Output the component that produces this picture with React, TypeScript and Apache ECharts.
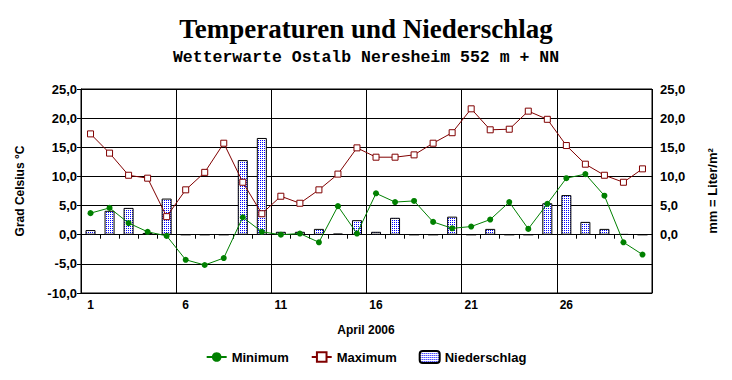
import React, { useEffect, useRef } from "react";
import * as echarts from "echarts";

const days = ["1","2","3","4","5","6","7","8","9","10","11","12","13","14","15","16","17","18","19","20","21","22","23","24","25","26","27","28","29","30"];
const minTemp = [3.7,4.6,2.0,0.5,-0.2,-4.3,-5.2,-4.0,3.0,0.5,0.0,0.2,-1.3,4.9,0.2,7.1,5.6,5.8,2.2,1.1,1.4,2.6,5.6,1.0,5.3,9.7,10.4,6.7,-1.3,-3.4];
const maxTemp = [17.3,14.0,10.2,9.7,3.1,7.7,10.7,15.7,9.0,3.6,6.6,5.4,7.7,10.4,14.9,13.3,13.3,13.7,15.7,17.5,21.6,18.0,18.1,21.2,19.8,15.3,12.1,10.2,9.0,11.3];
const rain = [0.8,4.1,4.6,0.3,6.2,0,0,0,12.8,16.6,0.5,0.5,1.0,0.2,2.5,0.5,2.9,0,0,3.1,0,1.0,0,0,5.4,6.8,2.2,1.0,0.1,0];

const fmt = (v: number) => v.toFixed(1).replace(".", ",");

function makePattern() {
  const c = document.createElement("canvas");
  c.width = 2;
  c.height = 2;
  const ctx = c.getContext("2d")!;
  ctx.fillStyle = "#ffffff";
  ctx.fillRect(0, 0, 2, 2);
  ctx.fillStyle = "#0000ff";
  ctx.fillRect(0, 0, 1, 1);
  return { image: c, repeat: "repeat", imageWidth: 2, imageHeight: 2 } as any;
}

export default function App() {
  const ref = useRef<HTMLDivElement>(null);
  useEffect(() => {
    document.body.style.margin = "0";
    const chart = echarts.init(ref.current!, null, { renderer: "svg" });
    const font = "Liberation Sans";
    const pattern = makePattern();
    const gTop = 89;
    const gBottom = 87;
    const gHeight = 380 - gTop - gBottom;
    const zeroY = gTop + (gHeight * 25) / 35;
    chart.setOption({
      animation: false,
      backgroundColor: "#ffffff",
      title: [
        {
          text: "Temperaturen und Niederschlag",
          left: "center",
          top: 10,
          textStyle: { fontFamily: "Liberation Serif", fontWeight: "bold", fontSize: 27, color: "#000" },
        },
        {
          text: "Wetterwarte Ostalb Neresheim 552 m + NN",
          left: "center",
          top: 44,
          textStyle: { fontFamily: "Liberation Mono", fontWeight: "bold", fontSize: 16.5, color: "#000" },
        },
      ],
      legend: {
        top: 345,
        left: "center",
        itemWidth: 20,
        itemHeight: 12,
        itemGap: 22,
        data: ["Minimum", "Maximum", "Niederschlag"],
        textStyle: { fontFamily: font, fontWeight: "bold", fontSize: 13, color: "#000" },
      },
      grid: [
        { left: 81, right: 80, top: gTop, bottom: gBottom, show: true, borderColor: "#000", borderWidth: 1, backgroundColor: "transparent" },
        { left: 81, right: 80, top: gTop, bottom: 380 - zeroY, show: false },
      ],
      xAxis: [
        {
          type: "category",
          gridIndex: 0,
          data: days,
          position: "bottom",
          boundaryGap: true,
          axisLine: { show: true, onZero: false, lineStyle: { color: "#000", width: 1 } },
          axisTick: { show: false },
          axisLabel: {
            interval: (i: number) => i % 5 === 0,
            margin: 6,
            fontFamily: font,
            fontWeight: "bold",
            fontSize: 12,
            color: "#000",
          },
          splitLine: { show: true, interval: (i: number) => i % 5 === 0, lineStyle: { color: "#000", width: 1 } },
        },
        {
          type: "category",
          gridIndex: 0,
          data: days,
          position: "top",
          boundaryGap: true,
          axisLine: { show: true, onZero: true, onZeroAxisIndex: 0, lineStyle: { color: "#000", width: 1 } },
          axisTick: { show: true, inside: true, length: 4, interval: 0, lineStyle: { color: "#000", width: 1 } },
          axisLabel: { show: false },
          splitLine: { show: false },
        },
        { type: "value", gridIndex: 1, show: false, min: 0, max: 1 },
      ],
      yAxis: [
        {
          type: "value",
          gridIndex: 0,
          min: -10,
          max: 25,
          interval: 5,
          position: "left",
          axisLine: { show: true, lineStyle: { color: "#000", width: 1 } },
          axisTick: { show: true, length: 4, lineStyle: { color: "#000", width: 1 } },
          axisLabel: { formatter: (v: number) => fmt(v), margin: 4, fontFamily: font, fontWeight: "bold", fontSize: 13, color: "#000" },
          splitLine: { show: true, lineStyle: { color: "#000", width: 1 } },
        },
        {
          type: "value",
          gridIndex: 1,
          min: 0,
          max: 25,
          interval: 5,
          position: "right",
          axisLine: { show: false },
          axisTick: { show: true, length: 4, lineStyle: { color: "#000", width: 1 } },
          axisLabel: { formatter: (v: number) => fmt(v), margin: 8, fontFamily: font, fontWeight: "bold", fontSize: 13, color: "#000" },
          splitLine: { show: false },
        },
      ],
      graphic: [
        {
          type: "text",
          x: 20,
          y: 191,
          rotation: Math.PI / 2,
          style: { text: "Grad Celsius °C", fontFamily: font, fontWeight: "bold", fontSize: 12, fill: "#000", align: "center", verticalAlign: "middle" },
        },
        {
          type: "text",
          x: 712,
          y: 191,
          rotation: Math.PI / 2,
          style: { text: "mm = Liter/m²", fontFamily: font, fontWeight: "bold", fontSize: 13, fill: "#000", align: "center", verticalAlign: "middle" },
        },
        {
          type: "text",
          x: 366,
          y: 330,
          style: { text: "April 2006", fontFamily: font, fontWeight: "bold", fontSize: 12, fill: "#000", align: "center", verticalAlign: "middle" },
        },
      ],
      series: [
        {
          name: "Minimum",
          type: "line",
          xAxisIndex: 0,
          yAxisIndex: 0,
          data: minTemp,
          z: 3,
          symbol: "circle",
          symbolSize: 6,
          lineStyle: { color: "#008000", width: 1 },
          itemStyle: { color: "#008000" },
        },
        {
          name: "Maximum",
          type: "line",
          xAxisIndex: 0,
          yAxisIndex: 0,
          data: maxTemp,
          z: 3,
          symbol: "rect",
          symbolSize: 6,
          lineStyle: { color: "#800000", width: 1 },
          itemStyle: { color: "#ffffff", borderColor: "#800000", borderWidth: 1 },
        },
        {
          name: "Niederschlag",
          type: "bar",
          xAxisIndex: 0,
          yAxisIndex: 0,
          data: rain,
          z: 1,
          barWidth: 10,
          itemStyle: { color: pattern, borderColor: "#000", borderWidth: 1 },
        },
      ],
    });
    return () => chart.dispose();
  }, []);
  return <div ref={ref} style={{ position: "fixed", left: 0, top: 0, width: 732, height: 380 }} />;
}
